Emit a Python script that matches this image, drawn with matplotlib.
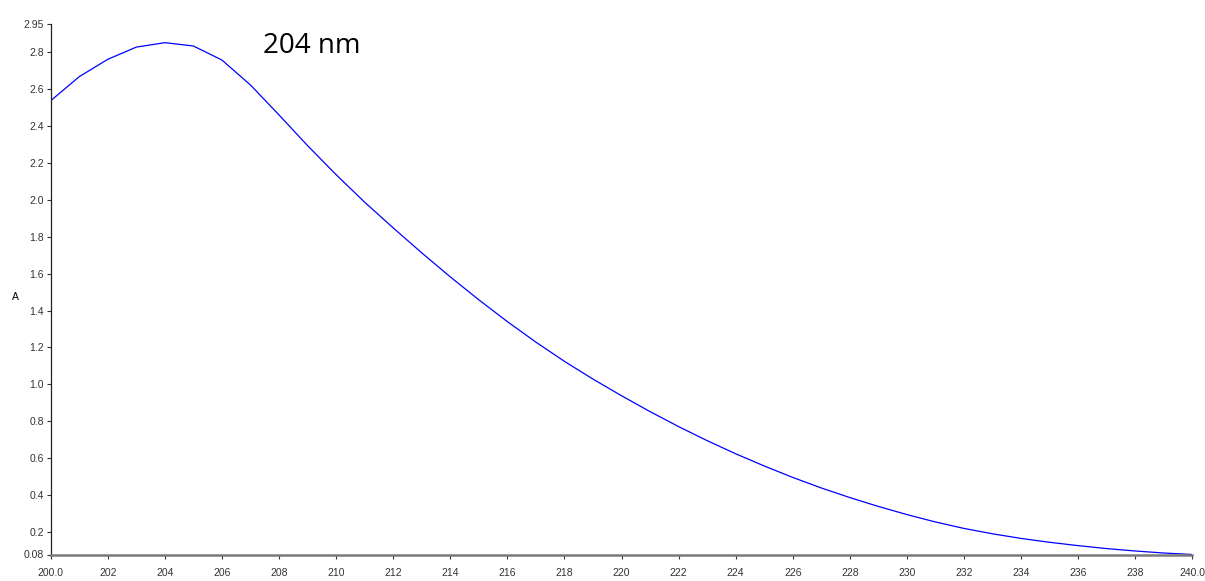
import numpy as np
import matplotlib.pyplot as plt

# absorbance spectrum, 1 nm steps
wavelength = np.arange(200, 241)
absorbance = [2.535, 2.665, 2.759, 2.825, 2.849, 2.831, 2.755, 2.620, 2.458, 2.292,
              2.135, 1.986, 1.847, 1.712, 1.582, 1.458, 1.340, 1.229, 1.125, 1.029,
              0.939, 0.853, 0.772, 0.696, 0.625, 0.559, 0.497, 0.440, 0.388, 0.340,
              0.296, 0.256, 0.221, 0.192, 0.167, 0.146, 0.128, 0.112, 0.099, 0.088,
              0.080]

xticks = np.arange(200, 241, 2)
xlabels = ['200.0'] + [str(v) for v in xticks[1:-1]] + ['240.0']
yticks = [0.08, 0.2, 0.4, 0.6, 0.8, 1.0, 1.2, 1.4, 1.6, 1.8, 2.0, 2.2, 2.4, 2.6, 2.8, 2.95]
ylabels = ['0.08'] + ['%.1f' % v for v in yticks[1:-1]] + ['2.95']

plt.rcParams['font.family'] = ['Liberation Sans', 'DejaVu Sans']

fig = plt.figure(figsize=(12.05, 5.81), dpi=100)
ax = fig.add_axes([50.7/1205, (581-554.5)/581, (1192.3-50.7)/1205, (554.5-24)/581])

ax.plot(wavelength, absorbance, color='#0000ff', lw=0.9)

ax.set_xlim(200, 240)
ax.set_ylim(0.08, 2.95)
ax.set_xticks(xticks)
ax.set_xticklabels(xlabels)
ax.set_yticks(yticks)
ax.set_yticklabels(ylabels)
ax.tick_params(axis='both', labelsize=7.5, length=3, width=0.8, colors='#333333', pad=2)
ax.tick_params(axis='x', pad=7)

for s in ['top', 'right']:
    ax.spines[s].set_visible(False)
ax.spines['left'].set_color('#222222')
ax.spines['left'].set_linewidth(0.9)
ax.spines['bottom'].set_color('#7a7a7a')
ax.spines['bottom'].set_linewidth(1.8)

ax.set_ylabel('A', rotation=0, fontsize=7.5, va='center', ha='center')
ax.yaxis.set_label_coords(-0.031, 0.485)

ax.text(207.45, 2.795, '204 nm', fontsize=20, family=['Open Sans', 'DejaVu Sans'],
        color='black', va='baseline')

fig.savefig('out.png', dpi=100)
